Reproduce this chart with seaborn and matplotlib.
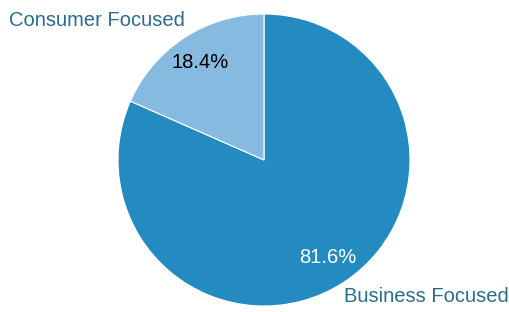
import matplotlib
matplotlib.use("Agg")
import matplotlib.pyplot as plt
import seaborn as sns

sns.set_style("white")
plt.rcParams["font.family"] = ["Liberation Sans", "DejaVu Sans"]

# Data
categories = ["Business Focused", "Consumer Focused"]
shares = [81.6, 18.4]

COLORS = {
    "Business Focused": "#238BBF",
    "Consumer Focused": "#86BAE1",
}
LABEL_COLOR = "#2A6C8E"

fig = plt.figure(figsize=(5.09, 3.12), dpi=100)
ax = fig.add_axes([0, 0, 1, 1])

wedges, texts, autotexts = ax.pie(
    shares,
    labels=categories,
    colors=[COLORS[c] for c in categories],
    startangle=90,
    counterclock=False,
    autopct="%1.1f%%",
    pctdistance=0.8,
    wedgeprops=dict(edgecolor="white", linewidth=0.8),
    textprops=dict(fontsize=14.5),
)

# pie centre at (264, 160) px, radius 146 px
ax.set_xlim(-264 / 146, (509 - 264) / 146)
ax.set_ylim(-(312 - 160) / 146, 160 / 146)
ax.set_aspect("auto")
ax.axis("off")

# label placement
label_pos = {
    "Business Focused": ((426 - 264) / 146, (160 - 297) / 146),
    "Consumer Focused": ((97 - 264) / 146, (160 - 20) / 146),
}
for t, cat in zip(texts, categories):
    t.set_position(label_pos[cat])
    t.set_ha("center")
    t.set_va("center")
    t.set_color(LABEL_COLOR)

autotexts[0].set_color("white")
autotexts[1].set_color("black")

fig.savefig("out.png", dpi=100)
